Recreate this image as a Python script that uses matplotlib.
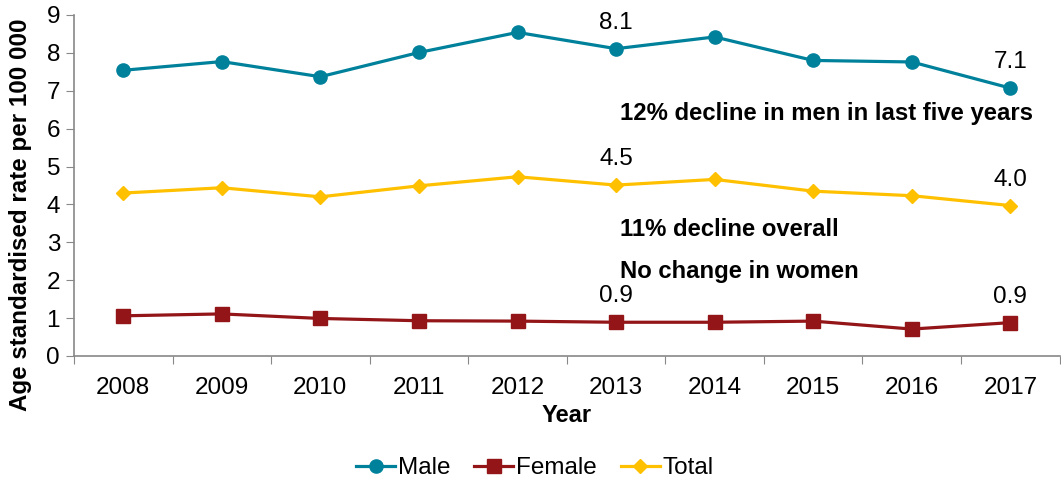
import numpy as np
import matplotlib
matplotlib.use('Agg')
import matplotlib.pyplot as plt

plt.rcParams['font.family'] = ['Liberation Sans', 'DejaVu Sans']

# Datos
years = ['2008', '2009', '2010', '2011', '2012', '2013', '2014', '2015', '2016', '2017']
male = [7.54, 7.77, 7.37, 8.01, 8.54, 8.11, 8.42, 7.80, 7.76, 7.07]
female = [1.06, 1.11, 0.99, 0.93, 0.92, 0.89, 0.89, 0.92, 0.71, 0.88]
total = [4.30, 4.44, 4.20, 4.49, 4.73, 4.51, 4.66, 4.35, 4.23, 3.97]
label_idx = [5, 9]
notes = ['12% decline in men in last five years', '11% decline overall', 'No change in women']
note_y = [6.41, 3.33, 2.24]

c_male = '#00819B'
c_female = '#931518'
c_total = '#FFC000'

fig = plt.figure(figsize=(10.61, 4.83), dpi=100)
ax = fig.add_axes([0.0697, 0.263, 0.929, 0.706])

x = np.arange(len(years))
ax.plot(x, male, color=c_male, lw=2.3, marker='o', ms=9.5, label='Male')
ax.plot(x, female, color=c_female, lw=2.3, marker='s', ms=9.5, label='Female')
ax.plot(x, total, color=c_total, lw=2.3, marker='D', ms=7.5, label='Total')

# Etiquetas de valores
for series in (male, total, female):
    for i in label_idx:
        ax.annotate(f'{series[i]:.1f}', (x[i], series[i]), xytext=(0, 26),
                    textcoords='offset pixels', ha='center', va='center', fontsize=17.5)

# Notas
for txt, yy in zip(notes, note_y):
    ax.text(5.04, yy, txt, ha='left', va='center', fontsize=17.2, fontweight='bold')

ax.set_xlim(-0.5, 9.5)
ax.set_ylim(0, 9)
ax.set_yticks(range(0, 10))
ax.set_xticks(np.arange(-0.5, 10, 1))
ax.set_xticklabels([])
ax.set_xticks(x, minor=True)
ax.set_xticklabels(years, minor=True)
ax.tick_params(axis='x', which='minor', length=0, pad=15, labelsize=17.5)
ax.tick_params(axis='x', which='major', length=6, color='#888888')
ax.tick_params(axis='y', length=6, color='#888888', labelsize=17.5, pad=4)

for s in ['top', 'right']:
    ax.spines[s].set_visible(False)
for s in ['left', 'bottom']:
    ax.spines[s].set_color('#888888')
    ax.spines[s].set_linewidth(1.2)

ax.set_xlabel('Year', fontsize=17, fontweight='bold', labelpad=4)
ax.set_ylabel('Age standardised rate per 100 000', fontsize=17.4, fontweight='bold')
ax.yaxis.set_label_coords(-0.0426, 0.413)

fig.legend(loc='center', bbox_to_anchor=(0.504, 0.031), ncol=3, frameon=False,
           fontsize=17.5, handlelength=1.6, handletextpad=0.1, columnspacing=1.0)

fig.savefig('out.png', dpi=100)
